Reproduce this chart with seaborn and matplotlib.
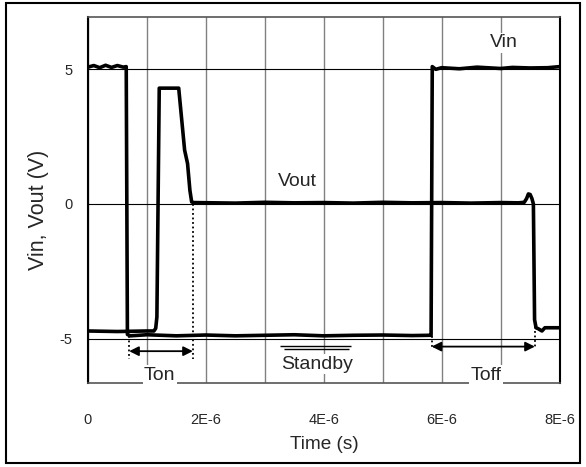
import numpy as np
import pandas as pd
import matplotlib
matplotlib.use('Agg')
import matplotlib.pyplot as plt
import seaborn as sns
from matplotlib.patches import Rectangle
from matplotlib.ticker import MultipleLocator, FuncFormatter

# time in microseconds, voltages in volts
vin_t_us = [0.0, 0.1, 0.2, 0.3, 0.4, 0.5, 0.6, 0.65, 0.67, 0.72, 1.0, 1.5, 2.0,
            2.5, 3.0, 3.5, 4.0, 4.5, 5.0, 5.5, 5.8, 5.82, 5.84, 5.9, 6.0, 6.3,
            6.6, 7.0, 7.2, 7.5, 7.8, 8.0]
vin_v = [5.08, 5.14, 5.06, 5.15, 5.07, 5.14, 5.08, 5.1, -4.85, -4.9, -4.86,
         -4.9, -4.87, -4.9, -4.88, -4.86, -4.9, -4.88, -4.87, -4.89, -4.88,
         -4.88, 5.1, 5.0, 5.06, 5.02, 5.08, 5.03, 5.07, 5.05, 5.06, 5.1]

vout_t_us = [0.0, 0.5, 1.0, 1.12, 1.15, 1.17, 1.21, 1.54, 1.64, 1.69,
             1.73, 1.76, 1.8, 2.5, 3.0, 3.5, 4.0, 4.5, 5.0, 5.5, 6.0, 6.5,
             7.0, 7.3, 7.40, 7.44, 7.47, 7.50, 7.53, 7.555, 7.575, 7.60, 7.64,
             7.70, 7.75, 8.0]
vout_v = [-4.72, -4.74, -4.72, -4.72, -4.62, -4.2, 4.3, 4.3, 2.0, 1.5,
          0.5, 0.07, 0.05, 0.03, 0.06, 0.04, 0.05, 0.03, 0.06, 0.04, 0.05,
          0.03, 0.05, 0.04, 0.06, 0.2, 0.37, 0.35, 0.2, 0.0, -4.3, -4.6,
          -4.64, -4.72, -4.6, -4.6]

x_ticks_us = [0, 2, 4, 6, 8]
y_ticks = [-5, 0, 5]

vin = pd.DataFrame({'t': np.array(vin_t_us) * 1e-6, 'v': vin_v})
vout = pd.DataFrame({'t': np.array(vout_t_us) * 1e-6, 'v': vout_v})

sns.set_style('white')
plt.rcParams['font.family'] = ['Liberation Sans', 'DejaVu Sans']
plt.rcParams['axes.unicode_minus'] = False

fig = plt.figure(figsize=(5.86, 4.67), dpi=100)
ax = fig.add_axes([0.150, 0.180, 0.805, 0.784])

sns.lineplot(data=vin, x='t', y='v', sort=False, estimator=None,
             color='black', lw=2.6, ax=ax, zorder=4)
sns.lineplot(data=vout, x='t', y='v', sort=False, estimator=None,
             color='black', lw=2.6, ax=ax, zorder=4)

ax.set_xlim(0, 8e-6)
ax.set_ylim(-6.65, 6.95)
ax.set_xticks([v * 1e-6 for v in x_ticks_us])
ax.xaxis.set_minor_locator(MultipleLocator(1e-6))
ax.xaxis.set_major_formatter(FuncFormatter(lambda x, p: '0' if x == 0 else f'{x*1e6:.0f}E-6'))
ax.set_yticks(y_ticks)
ax.tick_params(axis='both', which='both', length=0, labelsize=10.5)
ax.tick_params(axis='x', pad=22)
ax.tick_params(axis='y', pad=11)

ax.grid(axis='x', which='both', color='#808080', lw=1.0)
ax.grid(axis='y', which='major', color='black', lw=0.8)

for side in ['left', 'right']:
    ax.spines[side].set_color('black')
    ax.spines[side].set_linewidth(1.5)
for side in ['top', 'bottom']:
    ax.spines[side].set_color('#555555')
    ax.spines[side].set_linewidth(1.2)

ax.set_xlabel('Time (s)', fontsize=13.7, va='center')
ax.xaxis.set_label_coords(0.502, -0.169)
ax.set_ylabel('Vin, Vout (V)', fontsize=15.5, va='center')
ax.yaxis.set_label_coords(-0.104, 0.473)

# annotations
dot = dict(color='black', lw=1.3, linestyle=(0, (1, 1.5)), zorder=3)
ax.vlines(0.70e-6, -4.9, -5.75, **dot)
ax.vlines(1.78e-6, 0.0, -5.75, **dot)
ax.vlines(5.83e-6, -4.9, -5.35, **dot)
ax.vlines(7.58e-6, -4.4, -5.35, **dot)

arrow = dict(arrowstyle='<|-|>', color='black', lw=1.3, mutation_scale=14,
             shrinkA=0, shrinkB=0)
ax.annotate('', xy=(0.70e-6, -5.47), xytext=(1.78e-6, -5.47), arrowprops=arrow)
ax.annotate('', xy=(5.83e-6, -5.3), xytext=(7.58e-6, -5.3), arrowprops=arrow)

ax.hlines(-5.28, 3.25e-6, 4.47e-6, color='black', lw=1.0)
ax.hlines(-5.38, 3.33e-6, 4.43e-6, color='black', lw=1.0)

txt = dict(fontsize=14, ha='center', va='center',
           bbox=dict(fc='white', ec='none', pad=1))
ax.text(1.22e-6, -6.36, 'Ton', **txt)
ax.text(6.75e-6, -6.36, 'Toff', **txt)
ax.text(3.88e-6, -5.95, 'Standby', **txt)
ax.text(3.56e-6, 0.82, 'Vout', **txt)
ax.text(7.06e-6, 5.98, 'Vin', **txt)

fig.patches.append(Rectangle((6 / 586, 1 - 463 / 467), 574 / 586, 460 / 467,
                             transform=fig.transFigure, fill=False,
                             ec='black', lw=1.5))

fig.savefig('out.png', dpi=100, facecolor='white')
